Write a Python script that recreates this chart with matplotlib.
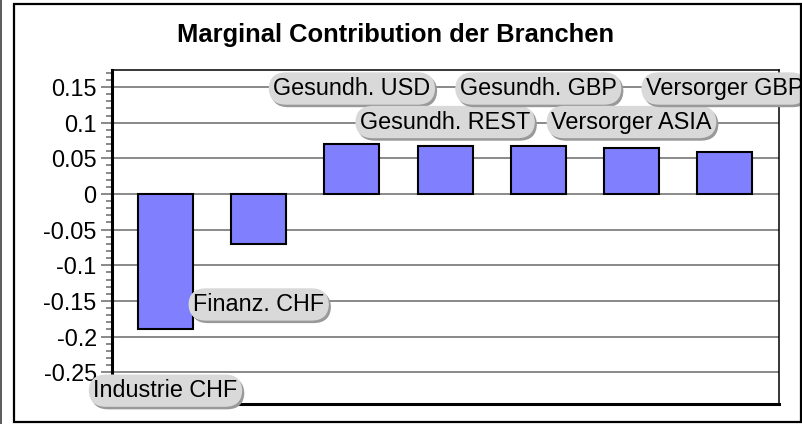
import matplotlib
matplotlib.use("Agg")
import matplotlib.pyplot as plt
import matplotlib.patheffects as pe
from matplotlib.patches import Rectangle
from matplotlib.transforms import Bbox, TransformedBbox
from matplotlib.ticker import MultipleLocator

plt.rcParams['font.family'] = ['Liberation Sans', 'DejaVu Sans']

# data
branchen = ["Industrie CHF", "Finanz. CHF", "Gesundh. USD", "Gesundh. REST",
            "Gesundh. GBP", "Versorger ASIA", "Versorger GBP"]
beitrag = [-0.190, -0.070, 0.070, 0.068, 0.068, 0.065, 0.059]
label_y = [-0.276, -0.155, 0.148, 0.101, 0.148, 0.101, 0.148]
y_ticks = [-0.25, -0.2, -0.15, -0.1, -0.05, 0, 0.05, 0.1, 0.15]
y_ticklabels = ["-0.25", "-0.2", "-0.15", "-0.1", "-0.05", "0", "0.05", "0.1", "0.15"]
title = "Marginal Contribution der Branchen"

W, H = 803, 424
fig = plt.figure(figsize=(W / 100, H / 100), dpi=100)
ax = fig.add_axes([112 / W, (H - 404) / H, (779 - 112) / W, (404 - 70) / H])

x = list(range(len(beitrag)))
ax.bar(x, beitrag, width=0.59, color="#8080ff", edgecolor="black", linewidth=1.5, zorder=3)

ax.set_xlim(-0.574, 6.583)
ax.set_ylim(-0.2947, 0.174)
ax.set_xticks([])
ax.set_yticks(y_ticks)
ax.set_yticklabels(y_ticklabels, fontsize=16.8)
ax.yaxis.set_minor_locator(MultipleLocator(0.01))
ax.tick_params(axis="y", which="major", length=8, width=1.3, color="#808080", pad=3)
ax.tick_params(axis="y", which="minor", length=4.5, width=1.3, color="#808080")
ax.grid(axis="y", which="major", color="#808080", linewidth=1.3, zorder=1)
ax.set_axisbelow(True)

for side in ["left", "bottom"]:
    ax.spines[side].set_linewidth(2.2)
for side in ["top", "right"]:
    ax.spines[side].set_linewidth(1.1)

fig.text(396 / W, 1 - 35 / H, title, ha="center", va="center",
         fontsize=18.4, fontweight="bold")

clip = TransformedBbox(Bbox([[0, 0], [800 / W, 1]]), fig.transFigure)
for xi, yi, name in zip(x, label_y, branchen):
    t = ax.text(xi, yi, name, ha="center", va="center", fontsize=16.8, zorder=5,
                bbox=dict(boxstyle="round,pad=0.2,rounding_size=0.75",
                          fc="#d9d9d9", ec="none"))
    t.set_clip_on(True)
    t.set_clip_box(clip)
    t.get_bbox_patch().set_path_effects(
        [pe.SimplePatchShadow(offset=(1.5, -1.8), shadow_rgbFace="#999999", alpha=1.0),
         pe.Normal()])

# chart frame
fig.patches.append(Rectangle((14 / W, 1 - 422 / H), (801 - 14) / W, (422 - 3.5) / H,
                             transform=fig.transFigure, fill=False,
                             edgecolor="black", linewidth=1.6, zorder=10))
fig.lines.append(plt.Line2D([1.5 / W, 1.5 / W], [0, 1], transform=fig.transFigure,
                            color="#404040", linewidth=1.2))

fig.savefig("out.png", dpi=100)
